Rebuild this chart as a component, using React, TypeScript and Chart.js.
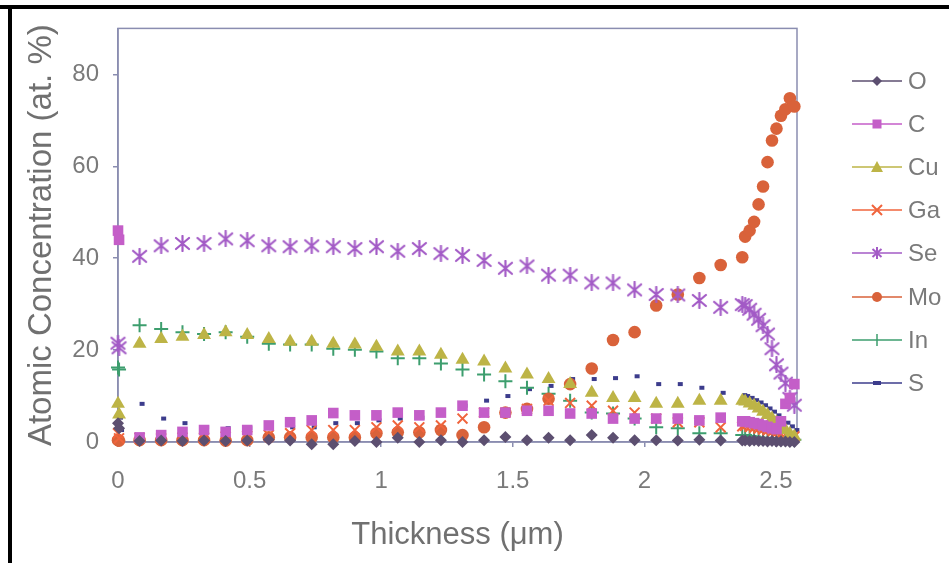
import React, { useEffect, useRef } from "react";
import { Chart, registerables } from "chart.js";

Chart.register(...registerables);

const thickness = [0, 0.004, 0.082, 0.164, 0.245, 0.327, 0.409, 0.491, 0.573, 0.654, 0.736, 0.818, 0.9, 0.982, 1.063, 1.145, 1.227, 1.309, 1.391, 1.472, 1.554, 1.636, 1.718, 1.8, 1.881, 1.963, 2.045, 2.127, 2.209, 2.29, 2.372, 2.383, 2.4, 2.417, 2.434, 2.451, 2.468, 2.485, 2.502, 2.519, 2.536, 2.553, 2.57];

const oValues = [4.1, 3.0, 0.2, 0.3, 0.2, 0.3, 0.2, 0.3, 0.5, 0.3, -0.5, -0.5, 0.2, 0, 0.9, 0, 0.4, 0, 0.4, 1.1, 0.4, 0.9, 0.4, 1.5, 0.9, 0.4, 0.4, 0.3, 0.5, 0.3, 0.3, 0.3, 0.2, 0.3, 0.2, 0.2, 0.1, 0.2, 0.1, 0.1, 0.1, 0, 0];
const cValues = [46, 44, 1, 1.5, 2.2, 2.6, 2.2, 2.6, 3.6, 4.3, 4.7, 6.3, 5.8, 5.8, 6.4, 5.8, 6.4, 7.9, 6.4, 6.4, 6.8, 6.8, 6.2, 6.2, 5.1, 5.1, 5.1, 5.1, 4.7, 5.3, 4.5, 4.5, 4.3, 4.1, 3.9, 3.6, 3.3, 3.0, 2.8, 4.5, 8.3, 9.6, 12.6];
const cuValues = [8.3, 6, 21.4, 22.4, 22.9, 23.3, 23.9, 23.3, 22.4, 21.8, 21.8, 21.4, 21.2, 20.7, 19.7, 19.7, 19, 17.9, 17.5, 16, 14.7, 13.7, 12.6, 10.7, 9.6, 9.6, 8.3, 8.3, 9, 9, 9, 8.8, 8.4, 7.9, 7.3, 6.6, 5.9, 5.1, 4.3, 3.5, 2.6, 1.8, 1.2];
const gaValues = [1.9, 0.8, 0.9, 0.8, 1, 1, 1.2, 1.3, 1.5, 1.9, 2.6, 2.6, 2.6, 3.2, 3.6, 3.2, 3.6, 5.1, 6.4, 6.4, 7.2, 9, 8.5, 7.9, 6.8, 6.4, 5.1, 4.3, 4.3, 3.2, 3.4, 3.5, 3.3, 3.1, 2.9, 2.7, 2.5, 2.2, 2.0, 1.8, 1.6, 1.4, 1.2];
const seValues = [21.5, 20.5, 40.4, 42.7, 43.2, 43.2, 44.2, 43.8, 42.7, 42.5, 42.7, 42.5, 42.1, 42.5, 41.5, 42.1, 41.0, 40.6, 39.5, 37.8, 38.3, 36.3, 36.3, 34.6, 34.6, 33.1, 32.1, 32, 30.8, 29.3, 29.9, 29.7, 28.9, 27.8, 26.7, 25.3, 23.5, 20.3, 16.8, 15, 12.8, 9.5, 8];
const moValues = [0.4, 0.3, 0.4, 0.4, 0.4, 0.4, 0.3, 0.4, 1, 1, 1, 1, 1, 1.9, 2.1, 2.1, 2.6, 1.5, 3.2, 6.4, 7.2, 9.4, 12.6, 16, 22.2, 23.9, 29.7, 32.1, 35.7, 38.5, 40.2, 44.7, 46, 47.9, 51.7, 55.6, 60.9, 65.6, 68.2, 71, 72.4, 74.8, 73];
const inValues = [16.2, 15.8, 25.4, 24.6, 23.9, 23.5, 23.9, 22.9, 21.4, 21.2, 21.2, 20.3, 20.1, 19.7, 18.2, 18.2, 17.1, 15.8, 14.7, 13.2, 11.8, 10.5, 9, 6.4, 6.2, 5.1, 3.2, 3, 1.9, 1.9, 1.5, 1.5, 1.3, 1.2, 1.0, 0.9, 0.8, 0.8, 0.7, 0.6, 0.6, 0.5, 0.5];
const sValues = [5.3, 2.6, 8.3, 5.1, 4.1, 3.2, 3, 3, 3, 3.2, 3.2, 4.1, 4.1, 4.7, 5.1, 5.3, 6.4, 7.9, 9, 10, 11.5, 12.2, 13.7, 13.7, 13.9, 14.3, 12.6, 12.6, 11.8, 10.7, 10.2, 10, 9.6, 9.1, 8.6, 8.0, 7.3, 6.6, 5.8, 5.0, 4.2, 3.4, 2.6];

const seriesNames = ["O", "C", "Cu", "Ga", "Se", "Mo", "In", "S"];
const seriesColors = ["#5c4f70", "#c45ec8", "#bdb446", "#f0643c", "#a35bc6", "#d9623a", "#3d9e6e", "#3c3c8c"];
const xTickValues = [0, 0.5, 1, 1.5, 2, 2.5];
const yTickValues = [0, 20, 40, 60, 80];

const FONT = "'Liberation Sans', Arial, Helvetica, sans-serif";
const AXIS_COLOR = "#8a8db0";
const TEXT_COLOR = "#7a7a7a";

function makeAsterisk(color: string, size: number) {
  const c = document.createElement("canvas");
  c.width = size;
  c.height = size;
  const ctx = c.getContext("2d")!;
  ctx.strokeStyle = color;
  ctx.lineWidth = 2.2;
  ctx.lineCap = "round";
  const p = 2;
  const m = size / 2;
  ctx.beginPath();
  ctx.moveTo(p, p + 1);
  ctx.lineTo(size - p, size - p - 1);
  ctx.moveTo(size - p, p + 1);
  ctx.lineTo(p, size - p - 1);
  ctx.moveTo(m, 1);
  ctx.lineTo(m, size - 1);
  ctx.stroke();
  return c;
}

function LegendMarker({ i }: { i: number }) {
  const col = seriesColors[i];
  const cx = 25;
  const cy = 10;
  let marker: React.ReactNode = null;
  switch (i) {
    case 0:
      marker = <polygon points={`${cx},${cy - 5} ${cx + 5},${cy} ${cx},${cy + 5} ${cx - 5},${cy}`} fill={col} />;
      break;
    case 1:
      marker = <rect x={cx - 4.5} y={cy - 4.5} width={9} height={9} fill={col} />;
      break;
    case 2:
      marker = <polygon points={`${cx},${cy - 6} ${cx + 6},${cy + 5} ${cx - 6},${cy + 5}`} fill={col} />;
      break;
    case 3:
      marker = (
        <path d={`M${cx - 5} ${cy - 5} L${cx + 5} ${cy + 5} M${cx + 5} ${cy - 5} L${cx - 5} ${cy + 5}`} stroke={col} strokeWidth={2} />
      );
      break;
    case 4:
      marker = (
        <path d={`M${cx - 4.5} ${cy - 4} L${cx + 4.5} ${cy + 4} M${cx + 4.5} ${cy - 4} L${cx - 4.5} ${cy + 4} M${cx} ${cy - 6} L${cx} ${cy + 6}`} stroke={col} strokeWidth={2} />
      );
      break;
    case 5:
      marker = <circle cx={cx} cy={cy} r={5} fill={col} />;
      break;
    case 6:
      marker = <path d={`M${cx} ${cy - 6} L${cx} ${cy + 6}`} stroke={col} strokeWidth={1.5} />;
      break;
    case 7:
      marker = <path d={`M${cx - 4} ${cy} L${cx + 4} ${cy}`} stroke={col} strokeWidth={4} />;
      break;
  }
  return (
    <svg width={50} height={20} style={{ position: "absolute", left: 0, top: -10 }}>
      <line x1={0} y1={cy} x2={50} y2={cy} stroke={col} strokeWidth={1.5} />
      {marker}
    </svg>
  );
}

export default function App() {
  const ref = useRef<HTMLCanvasElement>(null);

  useEffect(() => {
    const valueLists = [oValues, cValues, cuValues, gaValues, seValues, moValues, inValues, sValues];
    const styles: any[] = [
      { pointStyle: "rectRot", radius: 6, bw: 0 },
      { pointStyle: "rect", radius: 7.5, bw: 0 },
      { pointStyle: "triangle", radius: 8, bw: 0 },
      { pointStyle: "crossRot", radius: 7, bw: 2 },
      { pointStyle: makeAsterisk(seriesColors[4], 17), radius: 8, bw: 0 },
      { pointStyle: "circle", radius: 6.3, bw: 0 },
      { pointStyle: "cross", radius: 7, bw: 2 },
      { pointStyle: "dash", radius: 5, bw: 4 },
    ];

    const datasets = seriesNames.map((name, k) => ({
      label: name,
      data: thickness.map((x, i) => ({ x, y: valueLists[k][i] })),
      showLine: false,
      clip: false as any,
      pointStyle: styles[k].pointStyle,
      pointRadius: styles[k].radius,
      pointBackgroundColor: seriesColors[k],
      pointBorderColor: seriesColors[k],
      pointBorderWidth: styles[k].bw,
    }));

    const frame = {
      id: "frame",
      beforeDatasetsDraw(chart: any) {
        const { ctx, chartArea: a } = chart;
        ctx.save();
        ctx.strokeStyle = AXIS_COLOR;
        ctx.lineWidth = 1.5;
        ctx.strokeRect(a.left, a.top, a.right - a.left, a.bottom - a.top);
        ctx.restore();
      },
    };

    const chart = new Chart(ref.current!, {
      type: "scatter",
      data: { datasets: datasets as any },
      plugins: [frame],
      options: {
        responsive: false,
        animation: false,
        devicePixelRatio: 1,
        layout: { padding: { left: 0, top: 23, right: 152, bottom: 0 } },
        plugins: { legend: { display: false }, tooltip: { enabled: false } },
        scales: {
          x: {
            type: "linear",
            min: 0,
            max: 2.58,
            afterFit: (s: any) => {
              s.height = 121;
            },
            afterBuildTicks: (s: any) => {
              s.ticks = xTickValues.map((v) => ({ value: v }));
            },
            ticks: {
              font: { size: 24, family: FONT },
              color: TEXT_COLOR,
              padding: 20,
              callback: (v: any) => String(v),
            },
            grid: { drawOnChartArea: false, tickLength: 5, color: AXIS_COLOR, lineWidth: 1.5 },
            border: { color: AXIS_COLOR, width: 1.5 },
            title: {
              display: true,
              text: "Thickness (μm)",
              font: { size: 31, family: FONT },
              color: "#707070",
              padding: { top: 0, bottom: 9 },
            },
          },
          y: {
            type: "linear",
            min: 0,
            max: 90,
            afterFit: (s: any) => {
              s.width = 118;
            },
            afterBuildTicks: (s: any) => {
              s.ticks = yTickValues.map((v) => ({ value: v }));
            },
            ticks: {
              font: { size: 24, family: FONT },
              color: TEXT_COLOR,
              padding: 14,
              callback: (v: any) => String(v),
            },
            grid: { drawOnChartArea: false, tickLength: 5, color: AXIS_COLOR, lineWidth: 1.5 },
            border: { color: AXIS_COLOR, width: 1.5 },
            title: {
              display: true,
              text: "Atomic Concentration (at. %)",
              font: { size: 33, family: FONT },
              color: "#707070",
              padding: { top: 22, bottom: 0 },
            },
          },
        },
      },
    });
    return () => chart.destroy();
  }, []);

  const legendTop = 81;
  const legendStep = 43.1;

  return (
    <div style={{ position: "fixed", left: 0, top: 0, width: 949, height: 563, background: "#fff", overflow: "hidden" }}>
      <canvas ref={ref} width={949} height={563} style={{ position: "absolute", left: 0, top: 0, width: 949, height: 563 }} />
      <div style={{ position: "absolute", left: 0, top: 5, width: 949, height: 4, background: "#000" }} />
      <div style={{ position: "absolute", left: 8, top: 5, width: 4, height: 558, background: "#000" }} />
      {seriesNames.map((name, i) => (
        <div key={name} style={{ position: "absolute", left: 852, top: legendTop + i * legendStep, height: 0 }}>
          <LegendMarker i={i} />
          <span
            style={{
              position: "absolute",
              left: 56,
              top: -14,
              fontFamily: FONT,
              fontSize: 24,
              lineHeight: "28px",
              color: TEXT_COLOR,
              whiteSpace: "nowrap",
            }}
          >
            {name}
          </span>
        </div>
      ))}
    </div>
  );
}
